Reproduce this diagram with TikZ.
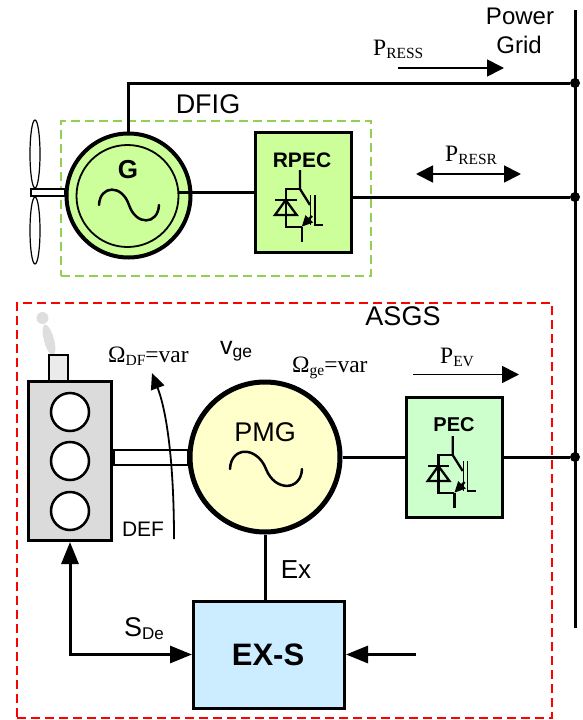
\documentclass[tikz,border=0pt]{standalone}
\usepackage{fontspec}
\setmainfont{Liberation Serif}
\setsansfont{Liberation Sans}
\usepackage{xcolor}
\usepackage{tikz}
\usetikzlibrary{shapes.geometric, arrows.meta}
\definecolor{dfigline}{HTML}{92D050}
\definecolor{genfill}{HTML}{CCFF99}
\definecolor{pecfill}{HTML}{CCFFCC}
\definecolor{pmgfill}{HTML}{FFFFCC}
\definecolor{exsfill}{HTML}{CCECFF}
\tikzstyle{machine} = [circle, draw=black, line width=4pt, inner sep=0pt]
\tikzstyle{converter} = [rectangle, draw=black, line width=3pt, inner sep=0pt, minimum width=96pt, minimum height=120pt]
\tikzstyle{label} = [inner sep=0pt, anchor=base, font=\sffamily\fontsize{27}{27}\selectfont]
\tikzstyle{boldlabel} = [inner sep=0pt, anchor=base, font=\sffamily\bfseries\fontsize{21}{21}\selectfont]
\tikzstyle{power} = [inner sep=0pt, anchor=base west, font=\rmfamily\fontsize{23.5}{23.5}\selectfont]
\tikzstyle{junction} = [circle, fill=black, inner sep=0pt, minimum size=10pt]
\tikzstyle{busline} = [line width=3pt]
\tikzstyle{flow} = [line width=1.8pt, -{Triangle[length=17pt,width=17pt]}]
\tikzstyle{signal} = [line width=3pt, -{Triangle[length=22pt,width=17pt]}]
\tikzstyle{cylinder} = [circle, draw=black, line width=2.5pt, fill=white, minimum size=38pt, inner sep=0pt]
\tikzstyle{wave} = [line width=2.5pt, line cap=round]
\newcommand{\lowtxt}[1]{\raisebox{-3pt}{\fontsize{15.5}{15.5}\selectfont #1}}
\newcommand{\igbtsym}[2]{%
  \begin{scope}[shift={(#1,#2)}, line width=2.3pt]
    \draw (0,-39) -- (0,-20) -- (10,-4);
    \draw (0,-20) -- (-14.3,-20) -- (-14.3,17.7) -- (1.7,17.7);
    \draw (1.7,17.7) -- (1.7,33);
    \draw [-{Triangle[length=11pt,width=10pt]}] (12,7) -- (1.7,17.7);
    \draw [line width=1.2pt] (10.7,-14) -- (10.7,16);
    \draw [line width=1.2pt] (15,-14) -- (15,16) -- (23,16);
    \draw (-25,-9) -- (-3.3,-9);
    \draw (-14.3,-9) -- (-25,6) -- (-3.3,6) -- cycle;
  \end{scope}}

\begin{document}
\begin{tikzpicture}[x=1pt, y=-1pt]
    \useasboundingbox (0,0) rectangle (582,720);

    % Frames
    \node (dfigframe) [draw=dfigline, line width=1.4pt, dash pattern=on 9pt off 5pt, inner sep=0pt, minimum width=310pt, minimum height=155pt] at (216,198.5) {};
    \node (asgsframe) [draw=red, line width=1.4pt, dash pattern=on 9pt off 5pt, inner sep=0pt, minimum width=535pt, minimum height=415pt] at (284.5,510.5) {};

    % Bus
    \coordinate (bustop) at (575,10);
    \coordinate (busend) at (575,628);
    \node (busa) [junction] at (575,83) {};
    \node (busb) [junction] at (575,197) {};
    \node (busc) [junction] at (575,457) {};

    % Turbine
    \node (bladeup) [ellipse, draw=black, line width=1.2pt, fill=white, inner sep=0pt, minimum width=10pt, minimum height=68pt] at (35,154) {};
    \node (bladedown) [ellipse, draw=black, line width=1.2pt, fill=white, inner sep=0pt, minimum width=10pt, minimum height=67pt] at (35,230.5) {};
    \node (gshaft) [rectangle, draw=black, line width=1.8pt, fill=white, inner sep=0pt, minimum width=34pt, minimum height=7pt] at (48,192.5) {};

    % Generators
    \node (gen) [machine, fill=genfill, minimum size=124pt] at (128.5,195.5) {};
    \node (geninner) [circle, draw=black, line width=1.8pt, inner sep=0pt, minimum size=102pt] at (127.5,196) {};
    \node (gentxt) [boldlabel, font=\sffamily\bfseries\fontsize{26}{26}\selectfont] at (128,178) {G};
    \draw [wave] (99,205) .. controls (100,185) and (122,184) .. (129,205) .. controls (136,226) and (158,225) .. (159,205);
    \node (pmg) [machine, line width=5pt, fill=pmgfill, minimum size=150pt] at (265,457) {};
    \node (pmgtxt) [label] at (265,441) {PMG};
    \draw [wave] (230,469) .. controls (231,446) and (257,446) .. (266,469) .. controls (275,492) and (301,491) .. (302,469);

    % Converters
    \node (rpec) [converter, fill=genfill] at (303.5,192.5) {};
    \node (rpectxt) [boldlabel] at (302,167) {RPEC};
    \igbtsym{300}{209}
    \node (pec) [converter, fill=pecfill] at (454,457) {};
    \node (pectxt) [boldlabel, font=\sffamily\bfseries\fontsize{20}{20}\selectfont] at (454,431) {PEC};
    \igbtsym{452.7}{475}
    \node (exs) [rectangle, draw=black, line width=3pt, fill=exsfill, inner sep=0pt, minimum width=151pt, minimum height=107pt] at (269,654.5) {};
    \node (exstxt) [boldlabel, font=\sffamily\bfseries\fontsize{31}{31}\selectfont] at (268,665) {EX-S};

    % Engine
    \fill [black!13] (42.5,318) circle (6);
    \fill [black!13, rotate around={15:(49,340)}] (49,340) ellipse (5 and 16);
    \node (chimney) [rectangle, draw=black, line width=1.2pt, fill=black!8, inner sep=0pt, minimum width=19pt, minimum height=26pt] at (58.5,368) {};
    \node (engine) [rectangle, draw=black, line width=3pt, fill=black!14, inner sep=0pt, minimum width=83pt, minimum height=159pt] at (70,461) {};
    \node (cyla) [cylinder] at (70,412) {};
    \node (cylb) [cylinder] at (70,461) {};
    \node (cylc) [cylinder] at (70,511) {};
    \node (eshaft) [rectangle, draw=black, line width=2.5pt, fill=white, inner sep=0pt, minimum width=74pt, minimum height=15pt] at (151,457.5) {};
    \draw [line width=3.5pt] (eshaft.north west) -- (eshaft.south west);

    % Texts
    \node (gridtxt) [label, font=\sffamily\fontsize{24}{24}\selectfont] at (520,24) {Power};
    \node (gridtxtb) [label, font=\sffamily\fontsize{24}{24}\selectfont] at (519,53) {Grid};
    \node (dfigtxt) [label] at (208,113) {DFIG};
    \node (asgstxt) [label] at (403,325) {ASGS};
    \node (presstxt) [power] at (373,55) {P\lowtxt{RESS}};
    \node (presrtxt) [power] at (445,161) {P\lowtxt{RESR}};
    \node (pevtxt) [power] at (440,363) {P\lowtxt{EV}};
    \node (omdftxt) [power] at (108,362) {Ω\lowtxt{DF}=var};
    \node (omgetxt) [power] at (292,372) {Ω\lowtxt{ge}=var};
    \node (vgetxt) [inner sep=0pt, anchor=base west, font=\sffamily\fontsize{25}{25}\selectfont] at (220,354) {v{\fontsize{17.5}{17.5}\selectfont\raisebox{-3pt}{ge}}};
    \node (deftxt) [label, font=\sffamily\fontsize{21}{21}\selectfont] at (143,536) {DEF};
    \node (extxt) [label, font=\sffamily\fontsize{26}{26}\selectfont] at (296,578) {Ex};
    \node (sdetxt) [inner sep=0pt, anchor=base west, font=\sffamily\fontsize{27}{27}\selectfont] at (124,636) {S{\fontsize{17}{17}\selectfont\raisebox{-3pt}{De}}};

    % Connector ends
    \coordinate (gout) at (178,192.5);
    \coordinate (rpecout) at (352,197);
    \coordinate (exin) at (416,654.5);
    \coordinate (defstart) at (174,539);
    \coordinate (defend) at (152,373);
    \coordinate (pressa) at (398,68);
    \coordinate (pressb) at (504,68);
    \coordinate (presra) at (416,174);
    \coordinate (presrb) at (521,174);
    \coordinate (peva) at (413,374.5);
    \coordinate (pevb) at (519,374.5);

    % Arrows
    \draw [busline] (bustop) -- (busend);
    \draw [busline] (gen.north) |- (busa);
    \draw [busline] (gout) -- (rpec.west);
    \draw [busline] (rpecout) -- (busb);
    \draw [busline] (pmg.east) -- (pec.west);
    \draw [busline] (pec.east) -- (busc);
    \draw [busline] (pmg.south) -- (pmg.south |- exs.north);
    \draw [signal, {Triangle[length=22pt,width=17pt]}-{Triangle[length=22pt,width=17pt]}] (engine.south) |- (exs.west);
    \draw [signal] (exin) -- (exs.east);
    \draw [line width=1.8pt, -{Triangle[length=16pt,width=14pt]}] (defstart) .. controls (174,470) and (168,415) .. (defend);
    \draw [flow] (pressa) -- (pressb);
    \draw [flow, {Triangle[length=17pt,width=17pt]}-{Triangle[length=17pt,width=17pt]}] (presra) -- (presrb);
    \draw [flow] (peva) -- (pevb);

\end{tikzpicture}
\end{document}
